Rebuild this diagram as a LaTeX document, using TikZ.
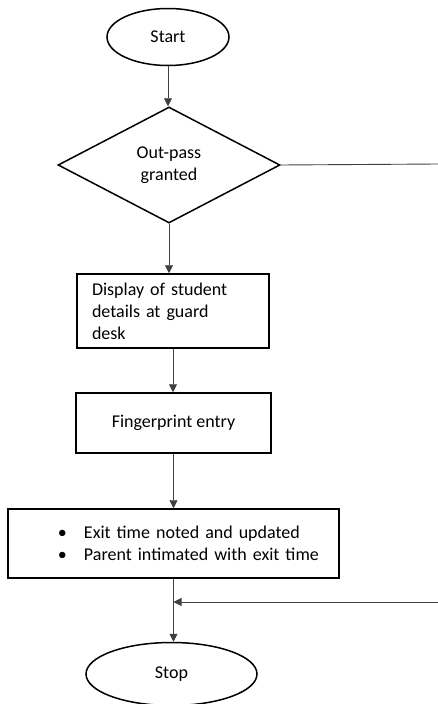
\documentclass[tikz,border=0pt]{standalone}
\usepackage{fontspec}
\setmainfont{Carlito}
\usetikzlibrary{shapes.geometric, arrows.meta}

\begin{document}
\begin{tikzpicture}[x=1pt, y=-1pt,
    base/.style = {draw, line width=1.5pt, font=\fontsize{18}{22}\selectfont},
    term/.style = {base, ellipse, inner sep=0pt},
    decide/.style = {base, diamond, aspect=2, inner sep=0pt, align=center, minimum width=222pt, minimum height=116pt},
    proc/.style = {base, rectangle, inner sep=0pt},
    link/.style = {draw=black!75, line width=0.9pt},
    flow/.style = {link, -{Triangle[length=8pt,width=8pt]}}]
    \useasboundingbox (0,0) rectangle (438,704);
        \node[term, minimum width=122pt, minimum height=57pt] at (168,37) (start) {Start};
        \node[decide] at (169,165) (pass) {Out-pass\\granted};
        \node[proc, minimum width=192pt, minimum height=74pt, text width=162pt, align=left] at (173,311) (disp) {Display of student\\details at guard\\desk};
        \node[proc, minimum width=195pt, minimum height=60pt] at (173.5,423) (finger) {Fingerprint entry};
        \node[proc, minimum width=331pt, minimum height=69pt, text width=293pt, align=left] at (173.5,543.5) (note)
            {\hspace*{31pt}\makebox[26pt][l]{\textbullet}Exit time noted and updated\\
             \hspace*{31pt}\makebox[26pt][l]{\textbullet}Parent intimated with exit time};
        \node[term, minimum width=171pt, minimum height=63pt] at (171.5,674) (stop) {Stop};
        %\coordinate (r0) at (438,380);
        \coordinate (r1) at (438,164);
        \coordinate (r2) at (438,602);
        \draw[flow] (start) -- (start |- pass.north);
        \draw[flow] (pass.south) -- (pass.south |- disp.north);
        \draw[flow] (disp.south) -- (disp.south |- finger.north);
        \draw[flow] (finger.south) -- (finger.south |- note.north);
        \draw[flow] (note.south) -- (note.south |- stop.north);
        \draw[link] (pass.east) -- (r1);
        \draw[flow] (r2) -- (r2 -| note.south);
\end{tikzpicture}
\end{document}
